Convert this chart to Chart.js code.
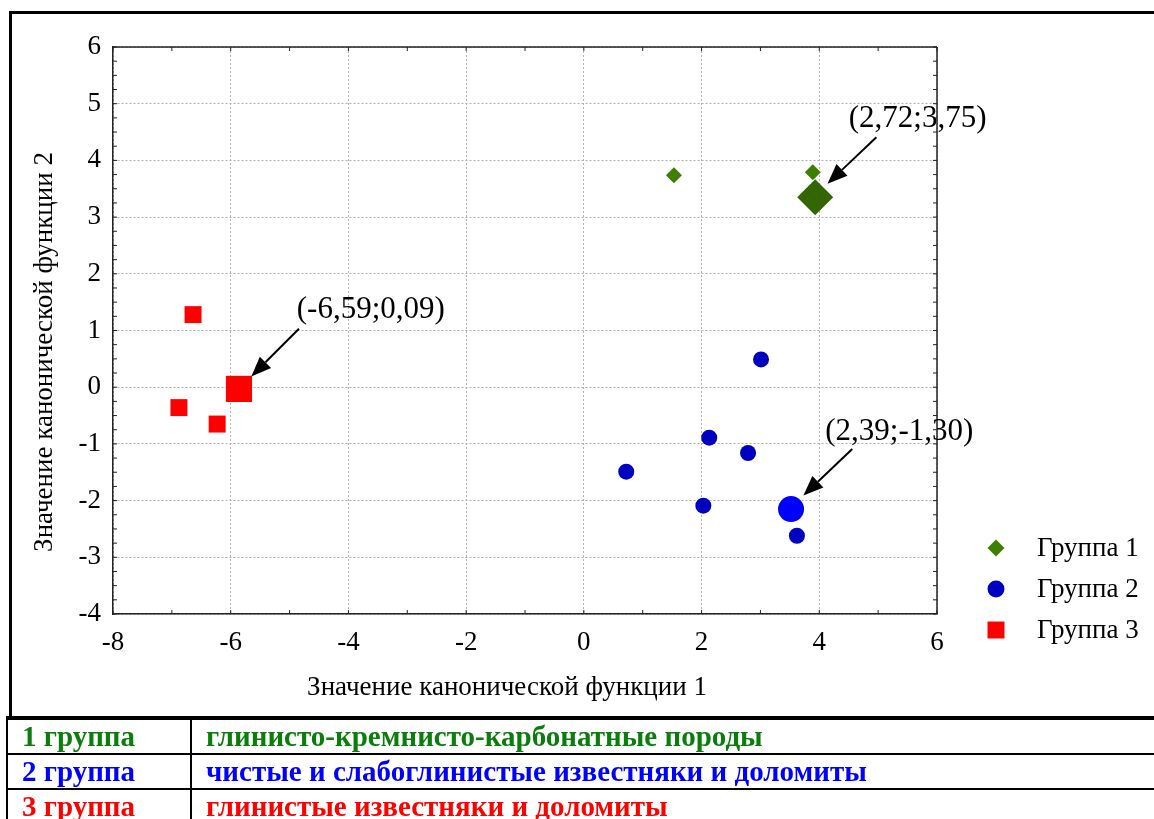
<!DOCTYPE html>
<html>
<head>
<meta charset="utf-8">
<script src="https://cdn.jsdelivr.net/npm/chart.js@4.4.1/dist/chart.umd.min.js"></script>
<style>
  html, body { margin: 0; padding: 0; background: #fff; overflow: hidden; width: 1154px; height: 819px; }
  #frame { position: absolute; left: 9px; top: 11px; width: 1160px; height: 705px;
           border-left: 3px solid #000; border-top: 3px solid #000; }
  #c { position: absolute; left: 0; top: 0; }
  table { position: absolute; left: 6px; top: 716px; width: 1170px; border-collapse: collapse;
          font-family: "Liberation Serif", serif; font-weight: bold; font-size: 29px; }
  td { border: 2px solid #000; height: 33px; padding: 0 0 0 14px; line-height: 33px; white-space: nowrap; }
  tr:first-child td { border-top: 4px solid #000; }
  td.g { width: 168px; }
</style>
</head>
<body>
<div id="frame"></div>
<canvas id="c" width="1154" height="717"></canvas>
<table>
  <tr style="color:#0a7d0a"><td class="g">1 группа</td><td>глинисто-кремнисто-карбонатные породы</td></tr>
  <tr style="color:#0000ff"><td class="g">2 группа</td><td>чистые и слабоглинистые известняки и доломиты</td></tr>
  <tr style="color:#ff0000"><td class="g">3 группа</td><td>глинистые известняки и доломиты</td></tr>
</table>
<script>
// axis ranges
const xMin = -8, xMax = 6, yMin = -4, yMax = 6;

// Группа 1
const group1X = [1.53, 3.89];
const group1Y = [3.74, 3.79];
// Группа 2
const group2X = [3.01, 2.13, 2.79, 0.72, 2.03, 3.62];
const group2Y = [0.49, -0.89, -1.16, -1.49, -2.09, -2.62];
// Группа 3
const group3X = [-6.64, -6.88, -6.23];
const group3Y = [1.28, -0.36, -0.65];
// центроиды групп
const centroidX = [3.93, 3.52, -5.86];
const centroidY = [3.35, -2.15, -0.03];

const legendLabels = ['Группа 1', 'Группа 2', 'Группа 3'];

// подписи центроидов: текст, позиция текста, начало и конец стрелки (в единицах осей)
const noteText = ['(2,72;3,75)', '(-6,59;0,09)', '(2,39;-1,30)'];
const noteX = [5.67, -3.62, 5.36];
const noteY = [4.74, 1.37, -0.78];
const arrowFromX = [4.97, -4.84, 4.56];
const arrowFromY = [4.41, 1.03, -1.09];
const arrowToX = [4.14, -5.65, 3.73];
const arrowToY = [3.59, 0.19, -1.91];

const xTitle = 'Значение канонической функции 1';
const yTitle = 'Значение канонической функции 2';

const toPts = (xs, ys) => xs.map((v, i) => ({ x: v, y: ys[i] }));
const serif = '"Liberation Serif", "Times New Roman", serif';

const decor = {
  id: 'decor',
  afterDraw(chart) {
    const { ctx, chartArea: a, scales: { x, y } } = chart;
    const seg = (x1, y1, x2, y2) => { ctx.beginPath(); ctx.moveTo(x1, y1); ctx.lineTo(x2, y2); ctx.stroke(); };
    ctx.save();
    ctx.strokeStyle = '#222';
    ctx.lineWidth = 1.5;
    seg(a.left, a.top, a.right, a.top);
    seg(a.right, a.top, a.right, a.bottom);

    // inner ticks
    ctx.lineWidth = 1;
    for (let v = yMin; v <= yMax; v += 0.25) {
      const py = y.getPixelForValue(v);
      seg(a.left, py, a.left + 4, py);
      seg(a.right - 4, py, a.right, py);
    }
    for (let v = xMin; v <= xMax; v += 1) {
      const px = x.getPixelForValue(v);
      seg(px, a.bottom, px, a.bottom - 4);
      seg(px, a.top, px, a.top + 4);
    }

    // axis titles
    ctx.fillStyle = '#000';
    ctx.font = '27px ' + serif;
    ctx.textAlign = 'center';
    ctx.textBaseline = 'middle';
    ctx.fillText(xTitle, 507, 688);
    ctx.save();
    ctx.translate(45, 352);
    ctx.rotate(-Math.PI / 2);
    ctx.fillText(yTitle, 0, 0);
    ctx.restore();

    // arrows + notes
    ctx.strokeStyle = '#000';
    ctx.fillStyle = '#000';
    ctx.lineWidth = 2;
    noteText.forEach((t, i) => {
      const x1 = x.getPixelForValue(arrowFromX[i]), y1 = y.getPixelForValue(arrowFromY[i]);
      const x2 = x.getPixelForValue(arrowToX[i]), y2 = y.getPixelForValue(arrowToY[i]);
      const ang = Math.atan2(y2 - y1, x2 - x1);
      const hl = 20, hw = 8;
      const bx = x2 - hl * Math.cos(ang), by = y2 - hl * Math.sin(ang);
      seg(x1, y1, bx, by);
      ctx.beginPath();
      ctx.moveTo(x2, y2);
      ctx.lineTo(bx + hw * Math.sin(ang), by - hw * Math.cos(ang));
      ctx.lineTo(bx - hw * Math.sin(ang), by + hw * Math.cos(ang));
      ctx.closePath();
      ctx.fill();
      ctx.font = '31px ' + serif;
      ctx.fillText(t, x.getPixelForValue(noteX[i]), y.getPixelForValue(noteY[i]));
    });

    // legend
    const ds = chart.data.datasets;
    ctx.font = '27px ' + serif;
    ctx.textAlign = 'left';
    legendLabels.forEach((lab, i) => {
      const d = ds[i];
      const ly = 548 + i * 41;
      ctx.fillStyle = d.backgroundColor;
      Chart.helpers.drawPoint(ctx, { pointStyle: d.pointStyle, radius: d.legendRadius, rotation: 0, borderWidth: 0 }, 996, ly);
      ctx.fillStyle = '#000';
      ctx.fillText(lab, 1037, ly + 1);
    });
    ctx.restore();
  }
};

new Chart(document.getElementById('c'), {
  type: 'scatter',
  data: {
    datasets: [
      { label: legendLabels[0], data: toPts(group1X, group1Y), pointStyle: 'rectRot', pointRadius: 8,
        backgroundColor: '#3f7f00', borderColor: '#3f7f00', borderWidth: 0, legendRadius: 8.5 },
      { label: legendLabels[1], data: toPts(group2X, group2Y), pointStyle: 'circle', pointRadius: 8,
        backgroundColor: '#0000c0', borderColor: '#0000c0', borderWidth: 0, legendRadius: 8.5 },
      { label: legendLabels[2], data: toPts(group3X, group3Y), pointStyle: 'rect', pointRadius: 12,
        backgroundColor: '#ff0000', borderColor: '#ff0000', borderWidth: 0, legendRadius: 12 },
      { label: 'c1', data: [{ x: centroidX[0], y: centroidY[0] }], pointStyle: 'rectRot', pointRadius: 18,
        backgroundColor: '#336600', borderWidth: 0 },
      { label: 'c2', data: [{ x: centroidX[1], y: centroidY[1] }], pointStyle: 'circle', pointRadius: 13,
        backgroundColor: '#0000ff', borderWidth: 0 },
      { label: 'c3', data: [{ x: centroidX[2], y: centroidY[2] }], pointStyle: 'rect', pointRadius: 18.5,
        backgroundColor: '#ff0000', borderWidth: 0 }
    ]
  },
  options: {
    responsive: false,
    animation: false,
    devicePixelRatio: 1,
    layout: { padding: { top: 47, right: 217, left: 0, bottom: 0 } },
    plugins: { legend: { display: false }, tooltip: { enabled: false } },
    elements: { point: { hoverRadius: 0 } },
    scales: {
      x: {
        type: 'linear', min: xMin, max: xMax,
        afterFit: s => { s.height = 103; },
        ticks: { stepSize: 2, padding: 13, color: '#000', font: { family: serif, size: 27 } },
        grid: { color: '#b0b0b0', drawTicks: false },
        border: { color: '#222', width: 1.5, dash: [2, 2] }
      },
      y: {
        type: 'linear', min: yMin, max: yMax,
        afterFit: s => { s.width = 113; },
        ticks: { stepSize: 1, padding: 12, color: '#000', font: { family: serif, size: 27 } },
        grid: { color: '#b0b0b0', drawTicks: false },
        border: { color: '#222', width: 1.5, dash: [2, 2] }
      }
    }
  },
  plugins: [decor]
});
</script>
</body>
</html>
